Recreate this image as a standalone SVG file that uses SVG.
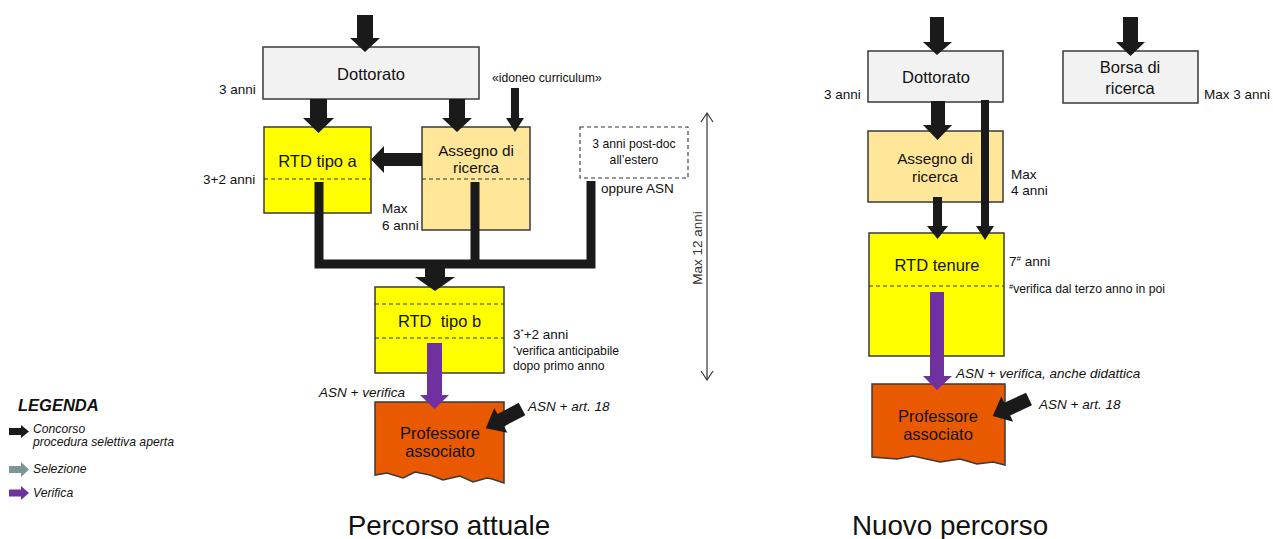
<svg xmlns="http://www.w3.org/2000/svg" width="1273" height="539" viewBox="0 0 1273 539">
<style>
text{font-family:"Liberation Sans",Arial,sans-serif;fill:#111}
.box{stroke:#3a3a3a;stroke-width:1.5}
.grey{fill:#f2f2f2}
.yel{fill:#ffff00}
.ass{fill:#ffe699}
.prof{fill:#e95a00}
.dash{stroke:#333;stroke-width:1.1;stroke-dasharray:4 3;fill:none}
.lbl{font-size:16.5px;text-anchor:middle}
.lbl15{font-size:15.3px;text-anchor:middle}
.side{font-size:13.5px}
.small{font-size:12.2px}
.it{font-style:italic}
.blk{fill:#1a1a1a}
.pur{fill:#7030a0}
.gry{fill:#7a9696}
.title{font-size:27.8px;text-anchor:middle}
</style>
<rect width="1273" height="539" fill="#ffffff"/>

<!-- LEFT: Percorso attuale -->
<g id="dottorato-a">
<rect class="box grey" x="263" y="47" width="216" height="52"/>
<text class="lbl" x="371" y="80">Dottorato</text>
</g>
<text class="side" x="219" y="94">3 anni</text>
<text class="small" x="492" y="82">«idoneo curriculum»</text>

<g id="rtd-a">
<rect class="box yel" x="264" y="127" width="107" height="86"/>
<line class="dash" x1="264" y1="179" x2="371" y2="179"/>
<text class="lbl" x="317.5" y="167">RTD tipo a</text>
</g>
<text class="side" x="203" y="184">3+2 anni</text>

<g id="assegno-a">
<rect class="box ass" x="422" y="127" width="108" height="103"/>
<line class="dash" x1="422" y1="179" x2="530" y2="179"/>
<text class="lbl15" x="476" y="156">Assegno di</text>
<text class="lbl15" x="476" y="173">ricerca</text>
</g>
<text class="side" x="382" y="213">Max</text>
<text class="side" x="382" y="230">6 anni</text>

<g id="postdoc">
<rect class="dash" x="580" y="127" width="108" height="51" style="fill:#fff"/>
<text class="small" x="634" y="148" text-anchor="middle">3 anni post-doc</text>
<text class="small" x="634" y="164" text-anchor="middle">all’estero</text>
</g>
<text class="side" x="601" y="193">oppure ASN</text>

<g id="rtd-b">
<rect class="box yel" x="375" y="287" width="129" height="86"/>
<line class="dash" x1="375" y1="304" x2="504" y2="304"/>
<line class="dash" x1="375" y1="338" x2="504" y2="338"/>
<text class="lbl" x="439.5" y="327" xml:space="preserve">RTD  tipo b</text>
</g>
<text class="side" x="513" y="339">3<tspan font-size="8" dy="-5">*</tspan><tspan dy="5">+2 anni</tspan></text>
<text class="small" x="513" y="355"><tspan font-size="8" dy="-4">*</tspan><tspan dy="4">verifica anticipabile</tspan></text>
<text class="small" x="513" y="370">dopo primo anno</text>

<g id="prof-a">
<path class="box prof" d="M375,402 H504 V483 L492,479 L487,478 L473,482 L460,476 L443,480 L430,475 L415,472 L403,478 L387,473 L375,475 Z"/>
<text class="lbl" x="440" y="439">Professore</text>
<text class="lbl" x="440" y="457">associato</text>
</g>
<text class="side it" x="319" y="397">ASN + verifica</text>
<text class="side it" x="528" y="411">ASN + art. 18</text>

<g id="max12">
<line x1="707" y1="113" x2="707" y2="380" stroke="#333" stroke-width="1.2"/>
<path d="M701,122 L707,113 L713,122 M701,371 L707,380 L713,371" fill="none" stroke="#333" stroke-width="1.2"/>
<text class="side" transform="translate(702,248) rotate(-90)" text-anchor="middle" style="fill:#333">Max 12 anni</text>
</g>

<!-- RIGHT: Nuovo percorso -->
<g id="dottorato-b">
<rect class="box grey" x="868" y="51" width="135" height="51"/>
<text class="lbl" x="936" y="83">Dottorato</text>
</g>
<text class="side" x="824" y="99">3 anni</text>

<g id="borsa">
<rect class="box grey" x="1063" y="51" width="135" height="52"/>
<text class="lbl" x="1130" y="73">Borsa di</text>
<text class="lbl" x="1130" y="94">ricerca</text>
</g>
<text class="side" x="1204" y="99">Max 3 anni</text>

<g id="assegno-b">
<rect class="box ass" x="868" y="131" width="135" height="71"/>
<text class="lbl15" x="935" y="164">Assegno di</text>
<text class="lbl15" x="935" y="182">ricerca</text>
</g>
<text class="side" x="1011" y="179">Max</text>
<text class="side" x="1011" y="195">4 anni</text>

<g id="rtd-tenure">
<rect class="box yel" x="869" y="233" width="135" height="123"/>
<line class="dash" x1="869" y1="286" x2="1004" y2="286"/>
<text class="lbl" x="937" y="271">RTD tenure</text>
</g>
<text class="side" x="1009" y="266">7<tspan font-size="8" dy="-5">#</tspan><tspan dy="5"> anni</tspan></text>
<text class="small" x="1009" y="293"><tspan font-size="7.5" dy="-4">#</tspan><tspan dy="4">verifica dal terzo anno in poi</tspan></text>

<g id="prof-b">
<path class="box prof" d="M872,384 H1005 V465 L993,462 L977,464 L960,459 L940,462 L913,456 L897,459 L872,457 Z"/>
<text class="lbl" x="938" y="422">Professore</text>
<text class="lbl" x="938" y="440">associato</text>
</g>
<text class="side it" x="956" y="378">ASN + verifica, anche didattica</text>
<text class="side it" x="1039" y="409">ASN + art. 18</text>

<!-- Connectors -->
<g id="connectors">
<polygon class="blk" points="357,15 373,15 373,38 380,38 365,52 350,38 357,38"/>
<polygon class="blk" points="310,99 327,99 327,118 334,118 318.5,133 303,118 310,118"/>
<polygon class="blk" points="449,99 465,99 465,118 472,118 457,132 442,118 449,118"/>
<polygon class="blk" points="511,88 519,88 519,118 524,118 515,132 506,118 511,118"/>
<polygon class="blk" points="422,153 384,153 384,146 371,159.5 384,173 384,166 422,166"/>
<path d="M319,182 V264 H591 V181 M475,182 V264" fill="none" stroke="#1a1a1a" stroke-width="9"/>
<polygon class="blk" points="425,264 445,264 445,277 455,277 435,291 415,277 425,277"/>
<polygon class="pur" points="427,343 442,343 442,395 449,395 434.5,409 420,395 427,395"/>
<polygon class="blk" transform="translate(522,409) rotate(152)" points="0,-7 24,-7 24,-14 41,0 24,14 24,7 0,7"/>

<polygon class="blk" points="930,17 944,17 944,42 952,42 937,55 923,42 930,42"/>
<polygon class="blk" points="1123,17 1138,17 1138,42 1145,42 1130.5,56 1116,42 1123,42"/>
<polygon class="blk" points="931,101 945,101 945,125 952,125 937.5,140 923,125 931,125"/>
<polygon class="blk" points="981,100 989,100 989,226 994,226 985,240 976,226 981,226"/>
<polygon class="blk" points="933,197 942,197 942,226 948,226 937.5,239 927,226 933,226"/>
<polygon class="pur" points="930,292 944,292 944,376 952,376 937,390 923,376 930,376"/>
<polygon class="blk" transform="translate(1029,399) rotate(155)" points="0,-7 24,-7 24,-14 40,0 24,14 24,7 0,7"/>
</g>

<!-- Legend -->
<g id="legend">
<text x="18" y="411" style="font-size:16.5px;font-weight:bold;font-style:italic">LEGENDA</text>
<polygon class="blk" points="9,428 21,428 21,425 29,431.5 21,438 21,435 9,435"/>
<text class="small it" x="33" y="433">Concorso</text>
<text class="small it" x="33" y="446">procedura selettiva aperta</text>
<polygon class="gry" points="9,466 21,466 21,462 29,469.5 21,477 21,473 9,473"/>
<text class="small it" x="33" y="473">Selezione</text>
<polygon class="pur" points="9,489.5 21,489.5 21,486 29,493 21,500 21,496.5 9,496.5"/>
<text class="small it" x="33" y="497">Verifica</text>
</g>

<text class="title" x="449" y="535">Percorso attuale</text>
<text class="title" x="950" y="535">Nuovo percorso</text>
</svg>
